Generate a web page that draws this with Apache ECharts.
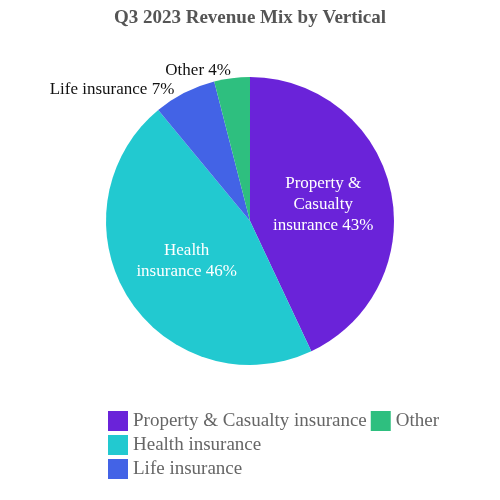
<!DOCTYPE html>
<html><head><meta charset="utf-8">
<script src="https://cdn.jsdelivr.net/npm/echarts@6/dist/echarts.min.js"></script>
</head><body style="margin:0">
<div id="c" style="width:500px;height:500px"></div>
<script>
const categories = ["Property & Casualty insurance","Health insurance","Life insurance","Other"];
const values = [43, 46, 7, 4];
const labelTexts = ["Property &\nCasualty\ninsurance 43%","Health\ninsurance 46%","Life insurance 7%","Other 4%"];
const colors = ["#6a23d9","#22c9d0","#4363e6","#2ebf7f"];
const inside = [true, true, false, false];
const chart = echarts.init(document.getElementById('c'));
chart.setOption({
  textStyle:{fontFamily:'Liberation Serif'},
  title:{text:'Q3 2023 Revenue Mix by Vertical',left:'center',top:4,textStyle:{fontFamily:'Liberation Serif',fontSize:19,fontWeight:'bold',color:'#555'}},
  legend:{orient:'vertical',left:103,top:406,itemWidth:20,itemHeight:20,itemGap:4,icon:'rect',
    textStyle:{fontFamily:'Liberation Serif',fontSize:19,color:'#666'}},
  series:[{type:'pie',center:[250,221],radius:144,startAngle:90,clockwise:true,
    labelLine:{show:false},
    data:categories.map((n,i)=>({name:n,value:values[i],itemStyle:{color:colors[i]},
      label: inside[i] ? {position:'inside',formatter:labelTexts[i],color:'#fff',fontSize:17,align:'left',lineHeight:21,fontFamily:'Liberation Serif'}
                       : {position:'outside',formatter:labelTexts[i],color:'#111',fontSize:17,distanceToLabelLine:0,fontFamily:'Liberation Serif'},
      labelLine:{show:false,length:8,length2:0}}))
  }]
});
</script></body></html>
